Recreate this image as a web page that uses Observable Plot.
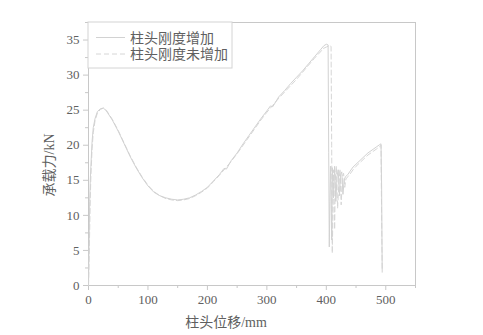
<!DOCTYPE html>
<html>
<head>
<meta charset="utf-8">
<script src="https://cdn.jsdelivr.net/npm/d3@7"></script>
<script src="https://cdn.jsdelivr.net/npm/@observablehq/plot@0.6"></script>
<style>
  html, body { margin: 0; padding: 0; background: #fff; }
  #chart { width: 483px; height: 335px; }
</style>
</head>
<body>
<div id="chart"></div>
<script>
// Series: 柱头刚度增加 (solid)
const xSolid = [0,1,2,3,4,6,8,11,15,20,25,30,40,50,60,70,80,90,100,110,120,130,140,150,160,170,180,190,200,210,220,228,232,240,250,260,270,280,290,300,306,310,320,330,340,350,360,370,380,390,396,400,403,404,405,406,407,408,409,410,412,414,416,418,420,422,424,426,428,430,432,436,440,445,450,455,460,465,470,475,480,485,490,492,493,494];
const ySolid = [0,6,12,15,17,20.5,22.5,23.8,24.8,25.2,25.3,24.9,23.6,22.0,20.2,18.4,16.8,15.4,14.2,13.3,12.8,12.5,12.3,12.2,12.3,12.5,12.9,13.4,14.0,14.9,15.8,16.7,16.6,17.8,18.9,20.2,21.4,22.6,23.8,24.9,25.6,25.5,26.9,27.8,28.8,29.7,30.6,31.6,32.6,33.6,34.2,34.4,34.3,19,5.5,12,17,13,6.5,16.8,12.5,17.0,12,15.5,16.5,12.8,15.8,16.2,13,15.0,15.5,15.8,16.3,16.9,17.3,17.7,18.1,18.5,18.9,19.2,19.5,19.8,20.1,20.2,14,1.9];
// Series: 柱头刚度未增加 (dashed)
const xDashed = [0,1,2,3,4,6,8,11,15,20,25,30,40,50,60,70,80,90,100,110,120,130,140,150,160,170,180,190,200,210,220,230,240,250,260,270,280,290,300,310,320,330,340,350,360,370,380,390,395,400,405,408,409,410,411,412,413,414,415,417,419,421,423,425,427,429,431,433,436,440,445,450,455,460,465,470,475,480,485,490,492,493,494];
const yDashed = [0,3.5,8,12.5,15.5,19.5,21.8,23.5,24.6,25.1,25.3,25.0,23.7,22.1,20.3,18.5,16.9,15.5,14.3,13.4,12.8,12.4,12.2,12.1,12.2,12.4,12.8,13.3,13.9,14.8,15.7,16.7,17.7,18.8,20.0,21.2,22.4,23.6,24.7,25.7,26.7,27.6,28.5,29.4,30.4,31.4,32.4,33.3,33.8,34.0,34.2,34.1,20,4.6,10,16.5,12,8,15,17,11,14.5,16.6,11.5,15.5,16,14,15.2,15.5,15.9,16.5,17.0,17.4,17.8,18.2,18.6,18.9,19.2,19.5,19.8,20.0,10,2.2];

const seriesNames = ["柱头刚度增加", "柱头刚度未增加"];
const xMajor = [0,100,200,300,400,500];
const xMinor = [50,150,250,350,450,550];
const yMajor = [0,5,10,15,20,25,30,35];
const yMinor = [2.5,7.5,12.5,17.5,22.5,27.5,32.5,37.5];
const xLabel = "柱头位移/mm";
const yLabel = "承载力/kN";

const solid = xSolid.map((x,i) => ({x, y: ySolid[i]}));
const dashed = xDashed.map((x,i) => ({x, y: yDashed[i]}));

const font = "'Liberation Serif', 'Noto Sans CJK SC', serif";
const axisColor = "#c8c8c8";
const textColor = "#606060";
const solidColor = "#d2d2d2";
const dashColor = "#d6d6d6";

const plot = Plot.plot({
  width: 483,
  height: 335,
  marginLeft: 88,
  marginRight: 68,
  marginTop: 22,
  marginBottom: 50,
  style: { fontFamily: font, fontSize: "13px", background: "#fff", color: textColor },
  x: { domain: [0, 550] },
  y: { domain: [0, 37.5] },
  marks: [
    Plot.axisX({ ticks: xMinor, tickSize: 3, stroke: axisColor, text: null, label: null }),
    Plot.axisY({ ticks: yMinor, tickSize: 3, stroke: axisColor, text: null, label: null }),
    Plot.axisX({ ticks: xMajor, tickSize: 5, tickPadding: 4, stroke: axisColor, fill: textColor, fontSize: 13, label: null }),
    Plot.axisY({ ticks: yMajor, tickSize: 5, tickPadding: 4, stroke: axisColor, fill: textColor, fontSize: 13, label: null }),
    Plot.frame({ stroke: axisColor, strokeWidth: 1 }),
    Plot.line(dashed, { x: "x", y: "y", stroke: dashColor, strokeWidth: 1, strokeDasharray: "5,3" }),
    Plot.line(solid, { x: "x", y: "y", stroke: solidColor, strokeWidth: 1 })
  ]
});

const svg = d3.select(plot);
// Axis titles
svg.append("text")
  .attr("x", 226).attr("y", 327)
  .attr("text-anchor", "middle")
  .attr("fill", textColor)
  .style("font-family", font).style("font-size", "14px")
  .text(xLabel);
svg.append("text")
  .attr("transform", "translate(54,165) rotate(-90)")
  .attr("text-anchor", "middle")
  .attr("fill", textColor)
  .style("font-family", font).style("font-size", "14px")
  .text(yLabel);

// Legend
const lg = svg.append("g");
lg.append("rect")
  .attr("x", 88).attr("y", 22).attr("width", 144).attr("height", 46)
  .attr("fill", "#fff").attr("stroke", "#d4d4d4").attr("stroke-width", 1);
const entries = [
  { name: seriesNames[0], dash: null, stroke: solidColor },
  { name: seriesNames[1], dash: "5,3", stroke: dashColor }
];
entries.forEach((e, i) => {
  const yy = 37.5 + i * 16.5;
  const ln = lg.append("line").attr("x1", 96).attr("x2", 125).attr("y1", yy).attr("y2", yy)
    .attr("stroke", e.stroke).attr("stroke-width", 1);
  if (e.dash) ln.attr("stroke-dasharray", e.dash);
  lg.append("text").attr("x", 130).attr("y", yy + 5)
    .attr("text-anchor", "start")
    .attr("fill", textColor)
    .style("font-family", font).style("font-size", "14px")
    .text(e.name);
});

document.getElementById("chart").appendChild(plot);
</script>
</body>
</html>
